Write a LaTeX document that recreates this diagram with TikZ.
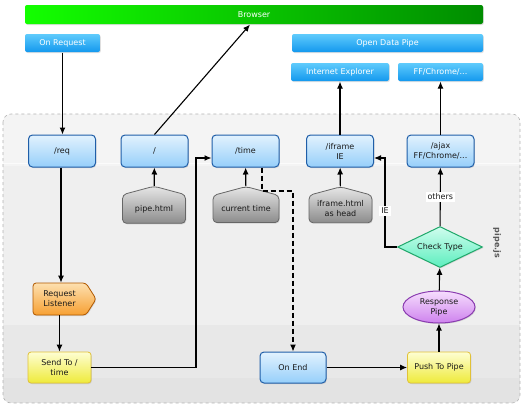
\documentclass[tikz,border=0pt]{standalone}
\usepackage{fontspec}
\setmainfont{DejaVu Sans}
\usetikzlibrary{shapes.geometric,shapes.symbols,arrows.meta,shadows}
\definecolor{headtop}{HTML}{5FCBFC}
\definecolor{headbot}{HTML}{1398EE}
\definecolor{routetop}{HTML}{E2F2FE}
\definecolor{routebot}{HTML}{96CFFA}
\definecolor{routeline}{HTML}{1F5EA8}
\definecolor{stattop}{HTML}{E6E6E6}
\definecolor{statbot}{HTML}{8C8C8C}
\definecolor{listtop}{HTML}{FDE0B0}
\definecolor{listbot}{HTML}{F7A032}
\definecolor{acttop}{HTML}{FEFED2}
\definecolor{actbot}{HTML}{EEEA3A}
\definecolor{pipetop}{HTML}{F6DEFD}
\definecolor{pipebot}{HTML}{CE82EE}
\definecolor{pipeline}{HTML}{8A3CB0}
\definecolor{checktop}{HTML}{D0FDEE}
\definecolor{checkbot}{HTML}{5CEEBE}
\definecolor{checkline}{HTML}{1FA86A}
\definecolor{bgtop}{HTML}{F4F4F4}
\definecolor{bgmid}{HTML}{EFEFEF}
\definecolor{bglow}{HTML}{E8E8E8}
\definecolor{bgbot}{HTML}{E3E3E3}
\begin{document}
\begin{tikzpicture}[x=1pt,y=-1pt,line width=1.1pt,>={Latex[length=7pt,width=6pt]},
	every node/.style={font=\fontsize{8}{10}\selectfont,align=center,text=black!90},
	shade/.style={drop shadow={opacity=0.25,shadow xshift=0.8pt,shadow yshift=-1pt}},
	head/.style={shade,rounded corners=2pt,top color=headtop,bottom color=headbot,text=white,minimum height=18pt,inner sep=0pt},
	route/.style={shade,draw=routeline,line width=1pt,rounded corners=4pt,top color=routetop,bottom color=routebot,minimum width=67pt,minimum height=32pt,inner sep=0pt},
	static/.style={shade,draw=gray!80!black,line width=0.8pt,rounded corners=4pt,top color=stattop,bottom color=statbot,signal,signal to=north,signal from=nowhere,signal pointer angle=150,minimum width=63pt,minimum height=34pt,inner sep=1pt},
	listener/.style={shade,draw=orange!70!black,line width=0.8pt,rounded corners=3pt,top color=listtop,bottom color=listbot,signal,signal to=east,signal from=nowhere,signal pointer angle=115,minimum width=63pt,minimum height=32pt,inner sep=1pt},
	action/.style={shade,draw=yellow!50!brown,line width=0.8pt,rounded corners=3pt,top color=acttop,bottom color=actbot,minimum width=63pt,minimum height=31pt,inner sep=0pt},
	stream/.style={shade,ellipse,draw=pipeline,line width=1pt,top color=pipetop,bottom color=pipebot,minimum width=72pt,minimum height=32pt,inner sep=0pt},
	decide/.style={shade,diamond,aspect=2,draw=checkline,line width=1pt,top color=checktop,bottom color=checkbot,minimum width=85pt,minimum height=41pt,inner sep=0pt},
	tag/.style={fill=white,inner sep=2pt}]
	\useasboundingbox (0,0) rectangle (524,407);
	\begin{scope}
		\clip[rounded corners=8pt] (3,114) rectangle (520,403);
		\fill[bgtop] (3,114) rectangle (520,166);
		\fill[bgmid] (3,166) rectangle (520,325);
		\fill[bglow] (3,325) rectangle (520,378);
		\fill[bgbot] (3,378) rectangle (520,403);
		\draw[white!60!bgtop,line width=0.6pt] (3,163) -- (520,163);
	\end{scope}
	\draw[dashed,gray!60,line width=0.6pt,rounded corners=8pt] (3,114) rectangle (520,403);
	\node[rotate=-90,text=black!65,font=\fontsize{8}{10}\selectfont\bfseries] (pipejs) at (497,243) {pipe.js};

	\node[shade,rounded corners=2pt,left color=green!90!lime,right color=green!55!black,text=white,minimum width=458pt,minimum height=19pt,inner sep=0pt] (browser) at (254,14.5) {Browser};
	\node[head,minimum width=75pt] (onreq) at (62.5,43) {On Request};
	\node[head,minimum width=191pt] (opendp) at (387.5,43) {Open Data Pipe};
	\node[head,minimum width=98pt] (ie) at (340,72) {Internet Explorer};
	\node[head,minimum width=85pt] (ff) at (440.5,72) {FF/Chrome/...};

	\node[route] (req) at (62,151) {/req};
	\node[route] (root) at (154.5,151) {/};
	\node[route] (time) at (245.5,151) {/time};
	\node[route] (iframe) at (340,151) {/iframe\\IE};
	\node[route] (ajax) at (440.5,151) {/ajax\\FF/Chrome/...};

	\node[static] (pipehtml) at (154,209) {pipe.html};
	\node[static,minimum width=66pt] (curtime) at (246,209) {current time};
	\node[static] (iframehtml) at (340.5,209) {iframe.html\\as head};

	\node[listener] (listen) at (59.5,299) {Request\\Listener};
	\node[action] (sendto) at (59.5,367.5) {Send To /\\time};
	\node[route,minimum width=66pt,minimum height=31pt] (onend) at (293,367.5) {On End};
	\node[action] (push) at (439,367.5) {Push To Pipe};
	\node[stream] (resp) at (439,307) {Response\\Pipe};
	\node[decide] (check) at (440,247) {Check Type};

	\coordinate (sendbend) at (196,158);
	\coordinate (endbend) at (293,191);
	\coordinate (iebend) at (385,158);

	\draw[->] (onreq.south) -- (onreq.south |- req.north);
	\draw[->] (root.north) -- ([xshift=-4pt]browser.south);
	\draw[->] (pipehtml) -- (root);
	\draw[->] (curtime) -- (time);
	\draw[->] (iframehtml) -- (iframe);
	\draw[->] (iframe) -- (ie);
	\draw[->] (ajax) -- (ff);
	\draw[->] ([xshift=-1pt]req.south) -- ([xshift=-1pt]req.south |- listen.north);
	\draw[->] (listen.south) -- (listen.south |- sendto.north);
	\draw[->] (sendto.east) -| (sendbend) -- ([yshift=-7pt]time.west);
	\draw[->,dash pattern=on 5pt off 3pt] ([xshift=16.5pt]time.south) |- (endbend) -- (onend.north);
	\draw[->] (onend) -- (push);
	\draw[->] (push) -- (resp);
	\draw[->] (resp) -- (check);
	\draw[->] (check) -- node[tag] (others) {others} (ajax);
	\draw[->] (check.west) -| (iebend) -- ([yshift=-7pt]iframe.east);
	\node[tag] (ielabel) at (385,211) {IE};
\end{tikzpicture}
\end{document}
